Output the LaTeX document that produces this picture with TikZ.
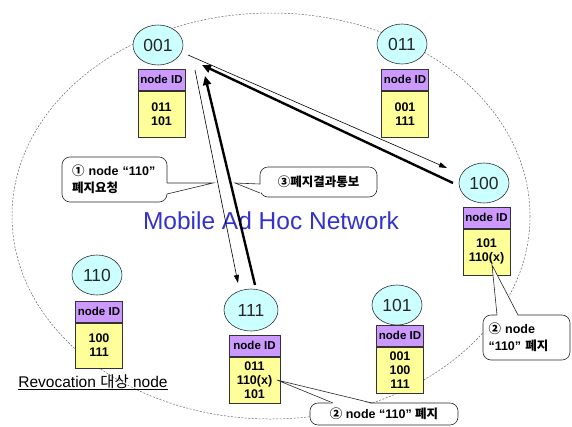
\documentclass[tikz,border=0pt]{standalone}
\usepackage{fontspec}
\setmainfont{Liberation Sans}
\newfontfamily\kr{Noto Sans CJK KR}
\usetikzlibrary{arrows.meta,shapes.geometric}
\definecolor{peercyan}{HTML}{CCFFFF}
\definecolor{idpurple}{HTML}{CC99FF}
\definecolor{idyellow}{HTML}{FFFF99}
\definecolor{netblue}{HTML}{3333CC}
\newcommand{\K}[1]{{\kr #1}}
\begin{document}
\begin{tikzpicture}[x=1pt,y=-1pt,
  peer/.style={ellipse, draw=black!80, line width=0.6pt, fill=peercyan,
    minimum width=50pt, minimum height=40pt, inner sep=0pt,
    font=\fontsize{17.5}{17}\selectfont, text=black!85},
  idhead/.style={rectangle, draw=black!80, line width=0.6pt, fill=idpurple,
    minimum width=47pt, minimum height=21pt, inner sep=0pt, anchor=north,
    font=\bfseries\fontsize{11.5}{12}\selectfont},
  idlist/.style={rectangle, draw=black!80, line width=0.6pt, fill=idyellow,
    minimum width=47pt, minimum height=46pt, inner sep=0pt, anchor=north,
    align=center, font=\bfseries\fontsize{12.5}{14}\selectfont},
  note/.style={draw=black!85, fill=white, rounded corners=8pt, line width=0.6pt,
    inner sep=0pt, font=\bfseries\fontsize{12.5}{17}\selectfont},
  tail/.style={draw=black!85, line width=0.6pt},
  msg/.style={line width=0.6pt, -{Triangle[length=8pt,width=5pt]}},
  reply/.style={line width=2.4pt, -{Triangle[length=9pt,width=8pt]}}]
\useasboundingbox (0,0) rectangle (572,426);

% network boundary
\draw[black!60, line width=0.5pt, dash pattern=on 2pt off 1.5pt]
  (271,216) ellipse [x radius=259, y radius=203];

\node[text=netblue, anchor=base, font=\fontsize{24.5}{25}\selectfont]
  (net) at (271,229) {Mobile Ad Hoc Network};

% peers and their neighbour tables
\node[peer] (n001) at (158,45) {001};
\node[idhead] (h001) at (161.5,69) {node ID};
\node[idlist] (l001) at (h001.south) {011\\101};

\node[peer] (n011) at (402,44) {011};
\node[idhead] (h011) at (405,69) {node ID};
\node[idlist] (l011) at (h011.south) {001\\111};

\node[peer] (n100) at (484,183) {100};
\node[idhead] (h100) at (486.5,207) {node ID};
\node[idlist] (l100) at (h100.south) {101\\110(x)};

\node[peer] (n110) at (97,275) {110};
\node[idhead] (h110) at (99,301) {node ID};
\node[idlist, minimum height=45pt] (l110) at (h110.south) {100\\111};

\node[peer, minimum width=54pt, minimum height=42pt] (n111) at (251,310) {111};
\node[idhead, minimum width=51pt] (h111) at (254.5,335) {node ID};
\node[idlist, minimum width=51pt] (l111) at (h111.south) {011\\110(x)\\101};

\node[peer] (n101) at (397,305) {101};
\node[idhead] (h101) at (400,325) {node ID};
\node[idlist] (l101) at (h101.south) {001\\100\\111};

\node[anchor=base, font=\fontsize{15.5}{16}\selectfont] (rev) at (93,387)
  {\underline{Revocation \K{대상} node}};

% message flow
\coordinate (s1) at (188,55);   \coordinate (e1) at (447,168);
\coordinate (s2) at (453,183);  \coordinate (e2) at (202,65);
\coordinate (s3) at (195,70);   \coordinate (e3) at (238,283);
\coordinate (s4) at (255,285);  \coordinate (e4) at (205,76);
\draw[msg] (s1) -- (e1);
\draw[msg] (s3) -- (e3);
\draw[reply] (s2) -- (e2);
\draw[reply] (s4) -- (e4);

% callouts
\node[note, minimum width=105pt, minimum height=45pt, text width=85pt,
  align=left] (c1) at (114.5,179.5)
  {\K{①} node “110”\\\K{폐지요청}};
\fill[white] (166,183) -- (213,183) -- (166,194) -- cycle;
\draw[tail] (167,183) -- (213,183) -- (167,194);

\node[note, minimum width=117pt, minimum height=30pt] (c3) at (318.5,182)
  {\K{③폐지결과통보}};
\fill[white] (261,184) -- (235,183) -- (261,193) -- cycle;
\draw[tail] (260,184) -- (235,183) -- (260,193);

\node[note, minimum width=148pt, minimum height=22pt] (c2a) at (384,414)
  {\K{②} node “110” \K{폐지}};
\fill[white] (333,404) -- (277,380) -- (372,404) -- cycle;
\draw[tail] (333,403) -- (277,380) -- (372,403);

\node[note, minimum width=87pt, minimum height=45pt, text width=76pt,
  align=left] (c2b) at (526.5,337.5)
  {\K{②} node\\“110” \K{폐지}};
\fill[white] (497,316) -- (492,265) -- (518,316) -- cycle;
\draw[tail] (497,315) -- (492,265) -- (518,315);
\end{tikzpicture}
\end{document}
